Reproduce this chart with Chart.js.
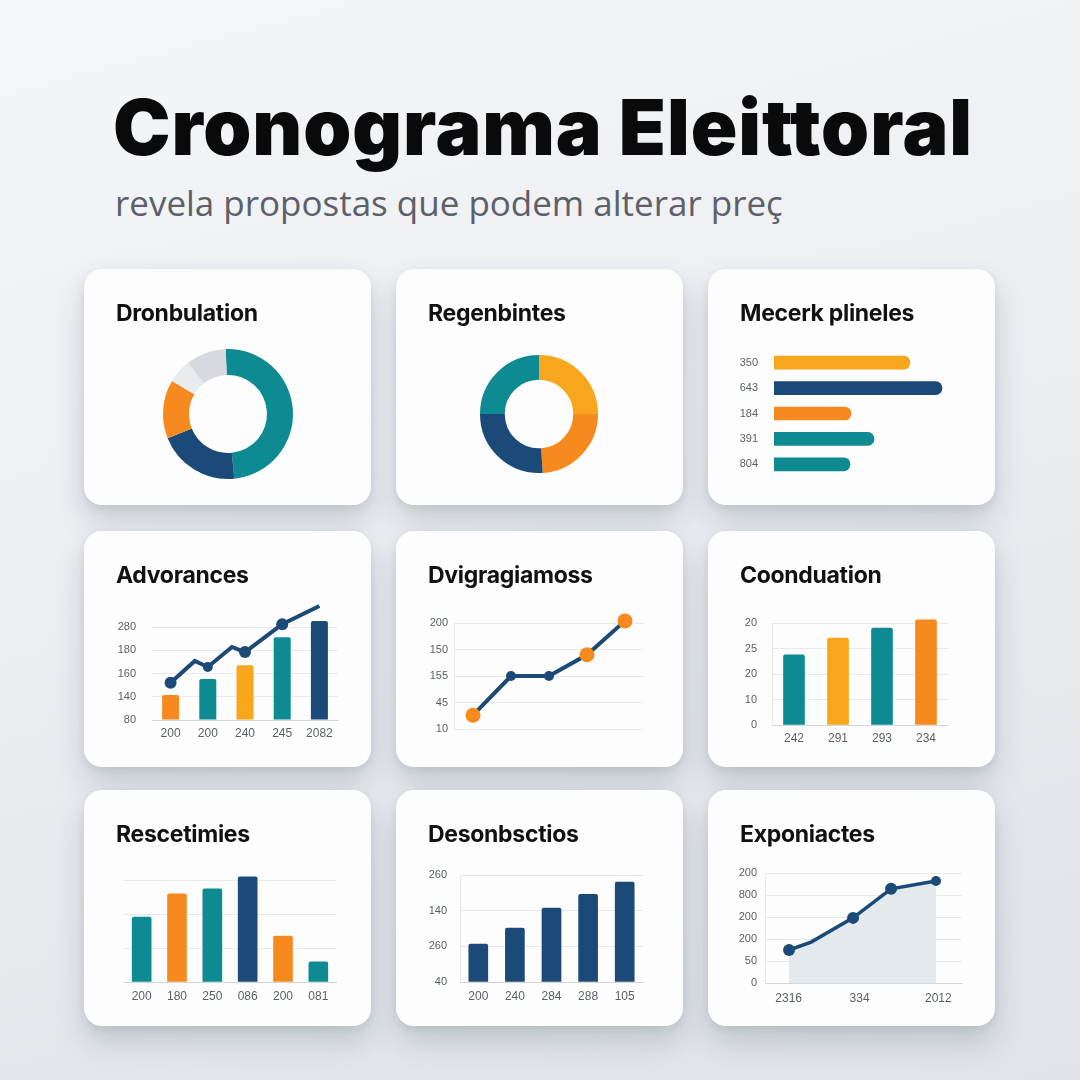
<!DOCTYPE html>
<html><head><meta charset="utf-8">
<script src="https://cdn.jsdelivr.net/npm/chart.js@4.4.0/dist/chart.umd.min.js"></script>
<style>
html,body{margin:0;padding:0;}
body{width:1080px;height:1080px;overflow:hidden;position:relative;
 background:linear-gradient(165deg,#f5f6f8 0%,#eceef1 45%,#e0e3e7 100%);font-family:'Lato',sans-serif;}
#title{position:absolute;left:113px;top:80px;font-family:'Inter';font-weight:900;font-size:77px;line-height:1;white-space:nowrap;color:#0a0a0b;}
#subtitle{position:absolute;left:115px;top:180px;font-family:'Open Sans';font-weight:400;font-size:34px;line-height:1;white-space:nowrap;color:#5c6068;}
.card{position:absolute;width:287px;height:236px;background:#fdfdfd;border-radius:18px;
 box-shadow:0 16px 30px rgba(70,80,100,.22),0 3px 8px rgba(70,80,100,.10);}
.card h3{position:absolute;left:32px;top:32px;margin:0;font-family:'Inter';font-weight:700;font-size:23px;line-height:24px;letter-spacing:-0.3px;color:#111;white-space:nowrap;z-index:2;}
.card canvas{position:absolute;left:0;top:0;}
</style></head>
<body>
<div id="title">Cronograma Eleittoral</div>
<div id="subtitle">revela propostas que podem alterar preç</div>

<div class="card" id="c1"><h3>Dronbulation</h3><canvas id="k1" width="287" height="236"></canvas></div>
<div class="card" id="c2"><h3>Regenbintes</h3><canvas id="k2" width="287" height="236"></canvas></div>
<div class="card" id="c3"><h3>Mecerk plineles</h3><canvas id="k3" width="287" height="236"></canvas></div>
<div class="card" id="c4"><h3>Advorances</h3><canvas id="k4" width="287" height="236"></canvas></div>
<div class="card" id="c5"><h3>Dvigragiamoss</h3><canvas id="k5" width="287" height="236"></canvas></div>
<div class="card" id="c6"><h3>Coonduation</h3><canvas id="k6" width="287" height="236"></canvas></div>
<div class="card" id="c7"><h3>Rescetimies</h3><canvas id="k7" width="287" height="236"></canvas></div>
<div class="card" id="c8"><h3>Desonbsctios</h3><canvas id="k8" width="287" height="236"></canvas></div>
<div class="card" id="c9"><h3>Exponiactes</h3><canvas id="k9" width="287" height="236"></canvas></div>

<script>
// ---------- DATA ----------
const teal = '#0e8a93', navy = '#1b4a78', orange = '#f78a1e', amber = '#f8a61b', gray = '#d6dade', light = '#e9ecef';

// Chart 1: Dronbulation (doughnut)
const donut1Values = [49, 20.5, 14.5, 6, 10];
const donut1Colors = [teal, navy, orange, light, gray];

// Chart 2: Regenbintes (doughnut)
const donut2Values = [25, 24, 26, 25];
const donut2Colors = [amber, orange, navy, teal];

// Chart 3: Mecerk plineles (horizontal bars)
const hbarLabels = ['350', '643', '184', '391', '804'];
const hbarValues = [136, 168, 77, 100, 76];
const hbarColors = [amber, navy, orange, teal, teal];

// Chart 4: Advorances (bars + line)
const advLabels = ['200', '200', '240', '245', '2082'];
const advBarX = [0, 1, 2, 3, 4];
const advBars = [134, 168, 198, 258, 293];
const advBarColors = [orange, teal, amber, teal, navy];
const advLineX = [0, 0.65, 1, 1.65, 2, 3, 4];
const advLineY = [160, 207, 194, 237, 226, 286, 325];
const advLineRadius = [6, 0, 5, 0, 6, 6, 6];
const advTicks = [80, 130, 180, 230, 280];
const advTickLabels = ['80', '140', '160', '180', '280'];

// Chart 5: Dvigragiamoss (line)
const dviLabels = ['', '', '', '', ''];
const dviValues = [26, 100, 100, 140, 204];
const dviPointColors = [orange, navy, navy, orange, orange];
const dviPointRadius = [7.5, 5, 5, 7.5, 7.5];
const dviTicks = [0, 50, 100, 150, 200];
const dviTickLabels = ['10', '45', '155', '150', '200'];

// Chart 6: Coonduation (bars)
const coLabels = ['242', '291', '293', '234'];
const coValues = [27.5, 34.1, 38.0, 41.2];
const coColors = [teal, amber, teal, orange];
const coTicks = [0, 10, 20, 30, 40];
const coTickLabels = ['0', '10', '20', '25', '20'];

// Chart 7: Rescetimies (bars)
const reLabels = ['200', '180', '250', '086', '200', '081'];
const reValues = [191, 259, 274, 309, 135, 59];
const reColors = [teal, orange, teal, navy, orange, teal];
const reTicks = [0, 100, 200, 300];

// Chart 8: Desonbsctios (bars)
const deLabels = ['200', '240', '284', '288', '105'];
const deValues = [106, 151, 207, 246, 280];
const deTicks = [0, 100, 200, 300];
const deTickLabels = ['40', '260', '140', '260'];

// Chart 9: Exponiactes (area line)
const exX = [12.2, 23.4, 44.7, 64, 86.8];
const exY = [75, 93, 148, 214, 232];
const exRadius = [6, 0, 6, 6, 5];
const exXTicks = [12, 48, 88];
const exXLabels = ['2316', '334', '2012'];
const exYTicks = [0, 50, 100, 150, 200, 250];
const exYLabels = ['0', '50', '200', '200', '800', '200'];

// ---------- LAYOUT ----------
function fitSpacing(id, targetW) {
  const el = document.getElementById(id);
  el.style.display = 'inline-block';
  el.style.letterSpacing = '0px';
  const w = el.getBoundingClientRect().width;
  const n = el.textContent.length;
  el.style.letterSpacing = ((targetW - w) / n) + 'px';
}
function fitText(id, targetW) {
  const el = document.getElementById(id);
  const fs = parseFloat(getComputedStyle(el).fontSize);
  el.style.display = 'inline-block';
  const w = el.getBoundingClientRect().width;
  el.style.fontSize = (fs * targetW / w) + 'px';
}
fitSpacing('title', 860);
fitText('subtitle', 668);
(function placeBaseline(){
  const t = document.getElementById('title');
  const fs = parseFloat(getComputedStyle(t).fontSize);
  t.style.top = (156 - 0.864 * fs) + 'px';
  const s = document.getElementById('subtitle');
  const fs2 = parseFloat(s.style.fontSize);
  s.style.top = (216 - 0.888 * fs2) + 'px';
})();

const W = 287, H = 236;
const cols = [84, 396, 708], rows = [269, 531, 790];
const cards = [];
for (let r = 0; r < 3; r++) for (let c = 0; c < 3; c++) cards.push({x: cols[c], y: rows[r]});
cards.forEach((cd, i) => {
  const el = document.getElementById('c' + (i + 1));
  el.style.left = cd.x + 'px'; el.style.top = cd.y + 'px';
});

Chart.defaults.animation = false;
Chart.defaults.responsive = false;
Chart.defaults.devicePixelRatio = 1;
Chart.defaults.plugins.legend.display = false;
Chart.defaults.plugins.tooltip.enabled = false;
Chart.defaults.font.family = "'Liberation Sans', sans-serif";

const tickColor = '#5a5f66', gridColor = '#e7e9ec', axisColor = '#d2d6db';
const yFont = {size: 11}, xFont = {size: 12};

function donut(idx, center, outer, cutout, values, colors, rotation) {
  const cd = cards[idx];
  const cx = center[0] - cd.x, cy = center[1] - cd.y;
  new Chart(document.getElementById('k' + (idx + 1)), {
    type: 'doughnut',
    data: {datasets: [{data: values, backgroundColor: colors, borderWidth: 0}]},
    options: {
      cutout: cutout, rotation: rotation,
      layout: {padding: {left: cx - outer, right: W - cx - outer, top: cy - outer, bottom: H - cy - outer}}
    }
  });
}

function cart(idx, plot, yw, xh, cfg) {
  const cd = cards[idx];
  cfg.options = cfg.options || {};
  cfg.options.layout = {padding: {
    left: plot.l - cd.x - yw, top: plot.t - cd.y,
    right: cd.x + W - plot.r, bottom: cd.y + H - plot.b - xh}};
  const sc = cfg.options.scales;
  sc.y.afterFit = s => { s.width = yw; };
  if (sc.x.display !== false) sc.x.afterFit = s => { s.height = xh; };
  new Chart(document.getElementById('k' + (idx + 1)), cfg);
}

function yScale(min, max, ticks, labels, pad, border) {
  return {
    min: min, max: max, beginAtZero: false,
    afterBuildTicks: s => { s.ticks = ticks.map(v => ({value: v})); },
    grid: {color: gridColor, drawTicks: false, lineWidth: 1},
    border: {display: !!border, color: gridColor},
    ticks: {display: !!labels, color: tickColor, font: yFont, padding: pad,
            callback: (v, i) => labels ? labels[i] : ''}
  };
}
function xCat(pad, display) {
  return {
    type: 'category', offset: true, display: display !== false,
    grid: {display: false, drawTicks: false},
    border: {display: true, color: axisColor},
    ticks: {color: tickColor, font: xFont, padding: pad}
  };
}

// 1
donut(0, [228, 414], 65, '60%', donut1Values, donut1Colors, -2);
// 2
donut(1, [539, 414], 59, '58%', donut2Values, donut2Colors, 0);

// 3 horizontal bars
cart(2, {l: 774, r: 954, t: 350, b: 477}, 40, 0, {
  type: 'bar',
  data: {labels: hbarLabels, datasets: [{data: hbarValues, backgroundColor: hbarColors,
    barThickness: 13, borderRadius: 7, borderSkipped: 'start'}]},
  options: {
    indexAxis: 'y',
    scales: {
      x: {type: 'linear', display: false, min: 0, max: 180},
      y: {type: 'category', grid: {display: false, drawTicks: false}, border: {display: false},
          ticks: {color: tickColor, font: yFont, padding: 16}}
    }
  }
});

// 4 bars + line (shared linear x axis)
cart(3, {l: 152, r: 338, t: 627, b: 720}, 45, 20, {
  type: 'bar',
  data: {datasets: [
    {type: 'line', data: advLineX.map((x, i) => ({x: x, y: advLineY[i]})),
     borderColor: navy, borderWidth: 4, pointRadius: advLineRadius, pointBackgroundColor: navy,
     pointBorderWidth: 0, tension: 0, clip: false, order: 0},
    {type: 'bar', data: advBarX.map((x, i) => ({x: x, y: advBars[i]})), backgroundColor: advBarColors,
     grouped: false, maxBarThickness: 17, base: 80,
     borderRadius: 2, borderSkipped: 'start', clip: false, order: 1}
  ]},
  options: {
    scales: {
      x: {type: 'linear', offset: false, min: -0.5, max: 4.5,
          afterBuildTicks: s => { s.ticks = advBarX.map(v => ({value: v})); },
          grid: {display: false, drawTicks: false, offset: false}, border: {display: true, color: axisColor},
          ticks: {color: tickColor, font: xFont, padding: 6, callback: (v, i) => advLabels[i]}},
      y: yScale(80, 280, advTicks, advTickLabels, 16, false)
    }
  }
});

// 5 line
cart(4, {l: 454, r: 644, t: 623, b: 729}, 45, 0, {
  type: 'line',
  data: {labels: dviLabels, datasets: [{data: dviValues, borderColor: navy, borderWidth: 4,
    pointRadius: dviPointRadius, pointBackgroundColor: dviPointColors, pointBorderWidth: 0,
    tension: 0, clip: false}]},
  options: {
    scales: {
      x: {type: 'category', offset: true, display: false},
      y: yScale(0, 200, dviTicks, dviTickLabels, 6, true)
    }
  }
});

// 6 bars
cart(5, {l: 772, r: 948, t: 623, b: 725}, 45, 20, {
  type: 'bar',
  data: {labels: coLabels, datasets: [{data: coValues, backgroundColor: coColors, barThickness: 21,
    borderRadius: 2, borderSkipped: 'start', clip: false}]},
  options: {scales: {x: xCat(6), y: yScale(0, 40, coTicks, coTickLabels, 15, true)}}
});

// 7 bars
cart(6, {l: 124, r: 336, t: 880, b: 982}, 0, 22, {
  type: 'bar',
  data: {labels: reLabels, datasets: [{data: reValues, backgroundColor: reColors, barThickness: 19,
    borderRadius: 2, borderSkipped: 'start', clip: false}]},
  options: {scales: {x: xCat(7), y: yScale(0, 300, reTicks, null, 0, false)}}
});

// 8 bars
cart(7, {l: 460, r: 643, t: 875, b: 982}, 45, 22, {
  type: 'bar',
  data: {labels: deLabels, datasets: [{data: deValues, backgroundColor: navy, barThickness: 19,
    borderRadius: 2, borderSkipped: 'start', clip: false}]},
  options: {scales: {x: xCat(7), y: yScale(0, 300, deTicks, deTickLabels, 13, true)}}
});

// 9 area line
cart(8, {l: 765, r: 962, t: 873, b: 983}, 45, 22, {
  type: 'line',
  data: {datasets: [{data: exX.map((x, i) => ({x: x, y: exY[i]})), borderColor: navy, borderWidth: 3.5,
    pointRadius: exRadius, pointBackgroundColor: navy, pointBorderWidth: 0, tension: 0,
    fill: 'origin', backgroundColor: '#e4e9ed', clip: false}]},
  options: {
    scales: {
      x: {type: 'linear', min: 0, max: 100,
          afterBuildTicks: s => { s.ticks = exXTicks.map(v => ({value: v})); },
          grid: {display: false, drawTicks: false}, border: {display: true, color: axisColor},
          ticks: {color: tickColor, font: xFont, padding: 8, callback: (v, i) => exXLabels[i]}},
      y: yScale(0, 250, exYTicks, exYLabels, 8, true)
    }
  }
});
</script>
</body></html>
